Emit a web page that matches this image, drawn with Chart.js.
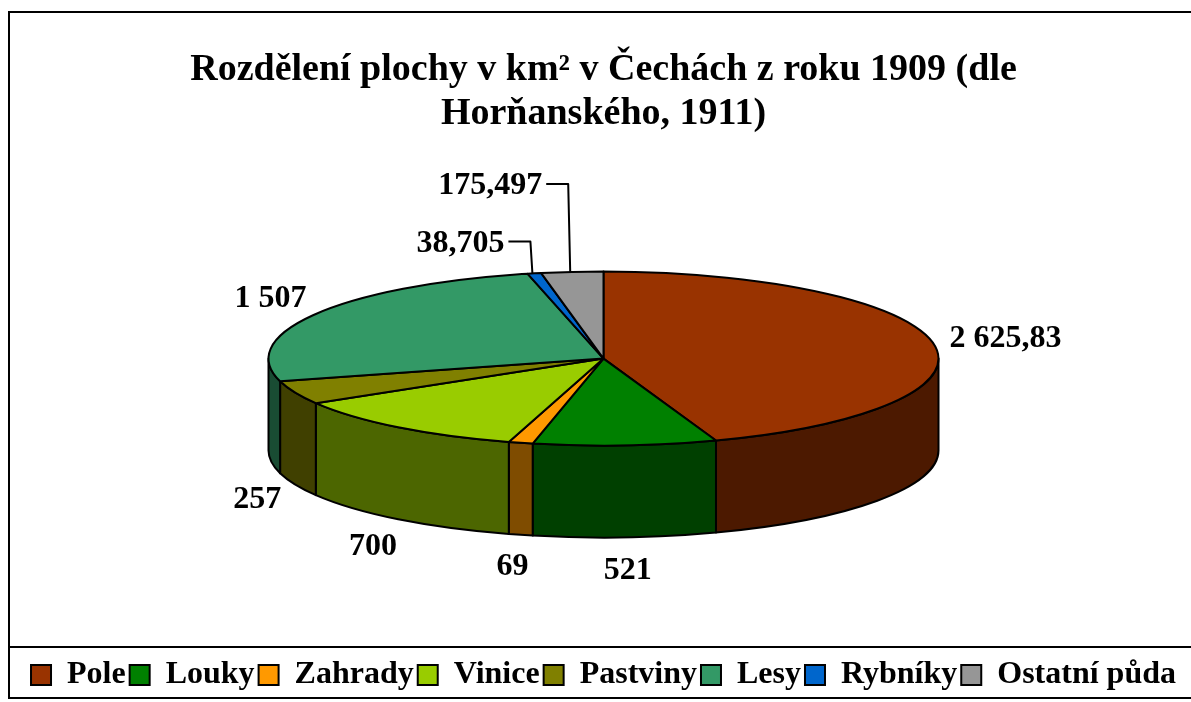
<!DOCTYPE html>
<html>
<head>
<meta charset="utf-8">
<script src="https://cdn.jsdelivr.net/npm/chart.js@4"></script>
<style>
html, body { margin: 0; padding: 0; background: #fff; }
#wrap { width: 1191px; height: 702px; position: relative; }
</style>
</head>
<body>
<div id="wrap"><canvas id="graf"></canvas></div>
<script>
var kategorie = ["Pole", "Louky", "Zahrady", "Vinice", "Pastviny", "Lesy", "Rybníky", "Ostatní půda"];
var plochaKm2 = [2625.83, 521, 69, 700, 257, 1507, 38.705, 175.497];
var barvy = ['#993300', '#008000', '#FF9900', '#99CC00', '#808000', '#339966', '#0066CC', '#969696'];
var titulek = ["Rozdělení plochy v km² v Čechách z roku 1909 (dle", "Horňanského, 1911)"];

var pismo = 'Liberation Serif, Times New Roman, serif';

// 2625.83 -> "2 625,83"
function cislo(v) {
  var s = String(v).split('.');
  var cele = s[0].replace(/\B(?=(\d{3})+(?!\d))/g, ' ');
  return s.length > 1 ? cele + ',' + s[1] : cele;
}

function tmava(hex) {
  var r = parseInt(hex.substr(1, 2), 16) >> 1;
  var g = parseInt(hex.substr(3, 2), 16) >> 1;
  var b = parseInt(hex.substr(5, 2), 16) >> 1;
  return 'rgb(' + r + ',' + g + ',' + b + ')';
}

// kresli kolac jako 3D elipsu podle uhlu, ktere spocital Chart.js
var pie3d = {
  id: 'pie3d',
  beforeDatasetsDraw: function(chart) {
    var ctx = chart.ctx, ca = chart.chartArea;
    var arcs = chart.getDatasetMeta(0).data;
    var rx = 335, ry = 87, hloubka = 92;
    var cx = (ca.left + ca.right) / 2;
    var cy = ca.top + (ca.bottom - ca.top - hloubka) / 2;
    var celkem = plochaKm2.reduce(function(a, b) { return a + b; }, 0);

    ctx.save();
    ctx.lineWidth = 2;
    ctx.strokeStyle = '#000';
    ctx.lineJoin = 'round';

    // boky
    arcs.forEach(function(a, i) {
      var s = Math.max(a.startAngle, 0), e = Math.min(a.endAngle, Math.PI);
      if (e <= s) return;
      ctx.beginPath();
      ctx.ellipse(cx, cy, rx, ry, 0, s, e);
      ctx.lineTo(cx + rx * Math.cos(e), cy + ry * Math.sin(e) + hloubka);
      ctx.ellipse(cx, cy + hloubka, rx, ry, 0, e, s, true);
      ctx.closePath();
      ctx.fillStyle = tmava(barvy[i]);
      ctx.fill();
      ctx.stroke();
    });

    // horni plochy
    arcs.forEach(function(a, i) {
      ctx.beginPath();
      ctx.moveTo(cx, cy);
      ctx.ellipse(cx, cy, rx, ry, 0, a.startAngle, a.endAngle);
      ctx.closePath();
      ctx.fillStyle = barvy[i];
      ctx.fill();
      ctx.stroke();
    });

    // popisky
    ctx.fillStyle = '#000';
    ctx.font = 'bold 32px ' + pismo;
    ctx.textBaseline = 'middle';
    var uroven = 0;
    arcs.forEach(function(a, i) {
      var t = (a.startAngle + a.endAngle) / 2;
      var txt = cislo(plochaKm2[i]);
      var w = ctx.measureText(txt).width;
      var podil = plochaKm2[i] / celkem;
      if (podil < 0.04 && Math.sin(t) < 0) {
        var ex = cx + rx * Math.cos(t), ey = cy + ry * Math.sin(t);
        var ly = ey - 32 - uroven * 56;
        ctx.beginPath();
        ctx.lineWidth = 2;
        ctx.moveTo(ex - 2, ey);
        ctx.lineTo(ex - 4, ly);
        ctx.lineTo(ex - 26, ly);
        ctx.stroke();
        ctx.textAlign = 'right';
        ctx.fillText(txt, ex - 30, ly + 2);
        uroven++;
        return;
      }
      var x = cx + (rx + 17 + w / 2) * Math.cos(t);
      var y = cy + (ry + 15 + 14) * Math.sin(t) + (Math.sin(t) > 0 ? hloubka + 4 : 0);
      ctx.textAlign = 'center';
      ctx.fillText(txt, x, y);
    });
    ctx.restore();
    return false;
  },
  afterDraw: function(chart) {
    var ctx = chart.ctx;
    ctx.save();
    ctx.strokeStyle = '#000';
    ctx.lineWidth = 2;
    ctx.strokeRect(9, 12, chart.width + 10, 686);
    ctx.beginPath();
    ctx.moveTo(9, 647);
    ctx.lineTo(chart.width, 647);
    ctx.stroke();
    ctx.restore();
  }
};

new Chart(document.getElementById('graf'), {
  type: 'pie',
  data: {
    labels: kategorie,
    datasets: [{
      data: plochaKm2,
      backgroundColor: barvy,
      borderColor: '#000',
      borderWidth: 2
    }]
  },
  options: {
    responsive: true,
    maintainAspectRatio: false,
    animation: false,
    devicePixelRatio: 1,
    layout: { padding: { left: 16, right: 0, top: 0, bottom: 1 } },
    plugins: {
      title: {
        display: true,
        text: titulek,
        color: '#000',
        font: { family: pismo, size: 38, weight: 'bold', lineHeight: 1.16 },
        padding: { top: 48, bottom: 18 }
      },
      legend: {
        position: 'bottom',
        labels: {
          color: '#000',
          boxWidth: 20,
          boxHeight: 20,
          padding: 4,
          font: { family: pismo, size: 32, weight: 'bold' }
        }
      },
      tooltip: { enabled: false }
    }
  },
  plugins: [pie3d]
});
</script>
</body>
</html>
